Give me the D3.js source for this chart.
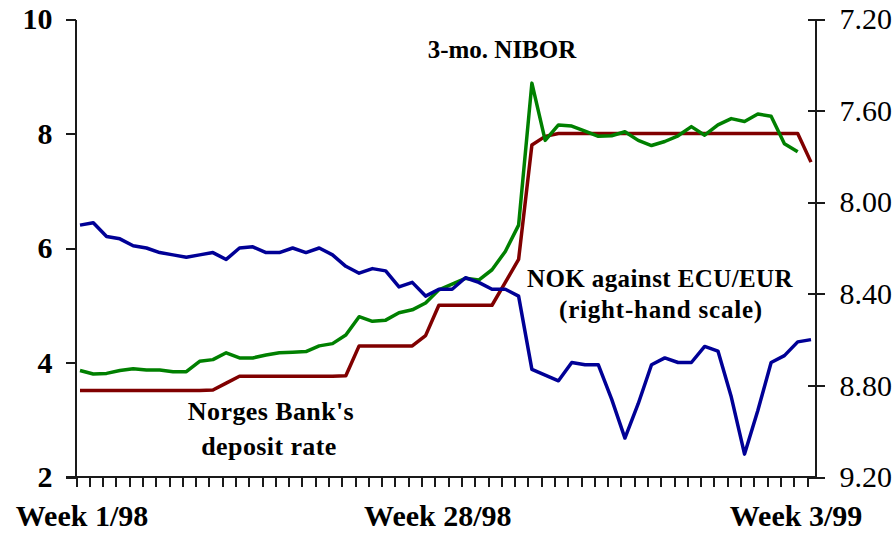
<!DOCTYPE html>
<html>
<head>
<meta charset="utf-8">
<script src="https://cdn.jsdelivr.net/npm/d3@7"></script>
<style>
  body { margin: 0; background: #fff; }
  svg { display: block; font-family: "Liberation Serif", "Times New Roman", serif; }
  .axis path, .axis line { stroke: #1a1a1a; stroke-width: 2; shape-rendering: crispEdges; }
  .note { font-weight: bold; fill: #000; }
</style>
</head>
<body>
<div id="chart"></div>
<script>
// weekly observations, week 1/98 .. week 3/99
var xLabels = ["Week 1/98", "Week 28/98", "Week 3/99"];
var xLabelWeek = [0, 27, 55];

var leftTicks = [2, 4, 6, 8, 10];
var rightTicks = [7.2, 7.6, 8.0, 8.4, 8.8, 9.2];

var nibor = [3.86, 3.80, 3.81, 3.86, 3.89, 3.87, 3.87, 3.84, 3.84, 4.02,
             4.05, 4.17, 4.08, 4.08, 4.13, 4.17, 4.18, 4.19, 4.29, 4.33,
             4.48, 4.80, 4.72, 4.74, 4.87, 4.92, 5.04, 5.27, 5.37, 5.47,
             5.44, 5.62, 5.94, 6.40, 8.88, 7.88, 8.15, 8.13, 8.04, 7.95,
             7.96, 8.03, 7.88, 7.79, 7.86, 7.96, 8.12, 7.97, 8.15, 8.26,
             8.21, 8.34, 8.30, 7.82, 7.68];

var depositRate = [3.51, 3.51, 3.51, 3.51, 3.51, 3.51, 3.51, 3.51, 3.51, 3.51,
                   3.52, 3.64, 3.76, 3.76, 3.76, 3.76, 3.76, 3.76, 3.76, 3.76,
                   3.77, 4.29, 4.29, 4.29, 4.29, 4.29, 4.47, 5.00, 5.00, 5.00,
                   5.00, 5.00, 5.40, 5.80, 7.80, 7.95, 8.00, 8.00, 8.00, 8.00,
                   8.00, 8.00, 8.00, 8.00, 8.00, 8.00, 8.00, 8.00, 8.00, 8.00,
                   8.00, 8.00, 8.00, 8.00, 8.00, 7.50];

var nokEcu = [8.10, 8.09, 8.15, 8.16, 8.19, 8.20, 8.22, 8.23, 8.24, 8.23,
              8.22, 8.25, 8.20, 8.195, 8.22, 8.22, 8.20, 8.22, 8.20, 8.23,
              8.28, 8.31, 8.29, 8.30, 8.37, 8.35, 8.41, 8.38, 8.38, 8.33,
              8.35, 8.38, 8.38, 8.41, 8.73, 8.755, 8.78, 8.70, 8.71, 8.71,
              8.86, 9.03, 8.88, 8.71, 8.68, 8.70, 8.70, 8.63, 8.65, 8.85,
              9.10, 8.91, 8.70, 8.67, 8.61, 8.60];

var width = 895;
var height = 535;
var plot = {left: 75.5, right: 815.5, top: 19, bottom: 477};

var svg = d3.select("#chart")
            .append("svg")
            .attr("width", width)
            .attr("height", height);

var x = d3.scaleLinear()
            .domain([0, 55])
            .range([plot.left + 4.5, plot.right - 4.5]);

var yLeft = d3.scaleLinear()
            .domain([2, 10])
            .range([plot.bottom, plot.top]);

// right-hand scale runs upside down
var yRight = d3.scaleLinear()
            .domain([7.2, 9.2])
            .range([plot.top, plot.bottom]);

// bottom axis: one tick per week, sitting just left of each point
var xAxis = d3.axisBottom(x)
            .tickValues(d3.range(56).map(function(k){ return k - 0.3; }))
            .tickSize(10)
            .tickSizeOuter(0)
            .tickFormat("");

var gx = svg.append("g")
            .attr("class", "axis x")
            .attr("transform", "translate(0," + plot.bottom + ")")
            .call(xAxis);
gx.select(".domain").remove();

svg.append("line")
    .attr("x1", plot.left - 10).attr("x2", plot.right)
    .attr("y1", plot.bottom).attr("y2", plot.bottom)
    .style("stroke", "#1a1a1a")
    .style("stroke-width", 2)
    .style("shape-rendering", "crispEdges");

var yAxisLeft = d3.axisLeft(yLeft)
            .tickValues(leftTicks)
            .tickSize(10)
            .tickSizeOuter(0)
            .tickPadding(13);

svg.append("g")
    .attr("class", "axis yl")
    .attr("transform", "translate(" + plot.left + ",0)")
    .call(yAxisLeft)
    .selectAll("text")
    .style("font-family", "Liberation Serif")
    .style("font-size", "30px")
    .style("font-weight", "bold")
    .attr("fill", "#000");

var yAxisRight = d3.axisRight(yRight)
            .tickValues(rightTicks)
            .tickSize(9)
            .tickSizeOuter(0)
            .tickPadding(15)
            .tickFormat(d3.format(".2f"));

var gr = svg.append("g")
    .attr("class", "axis yr")
    .attr("transform", "translate(" + plot.right + ",0)")
    .call(yAxisRight);
gr.selectAll(".tick line").attr("x1", -8);  // ticks cross the axis
gr.selectAll("text")
    .style("font-family", "Liberation Serif")
    .style("font-size", "30px")
    .attr("fill", "#000");

var lineLeft = d3.line()
            .x(function(d, i){ return x(i); })
            .y(function(d){ return yLeft(d); });

var lineRight = d3.line()
            .x(function(d, i){ return x(i); })
            .y(function(d){ return yRight(d); });

svg.append("path")
    .attr("d", lineLeft(depositRate))
    .attr("fill", "none")
    .style("stroke", "#800000")
    .style("stroke-width", 3.5)
    .style("stroke-linejoin", "round");

svg.append("path")
    .attr("d", lineLeft(nibor))
    .attr("fill", "none")
    .style("stroke", "#008000")
    .style("stroke-width", 3.5)
    .style("stroke-linejoin", "round");

svg.append("path")
    .attr("d", lineRight(nokEcu))
    .attr("fill", "none")
    .style("stroke", "#000096")
    .style("stroke-width", 3.5)
    .style("stroke-linejoin", "round");

// week labels under the axis
var labelShift = [2, -1, -15];
svg.selectAll(".week-label")
    .data(xLabels)
    .enter().append("text")
    .attr("class", "week-label")
    .attr("x", function(d, i){ return x(xLabelWeek[i]) + labelShift[i]; })
    .attr("y", 526)
    .attr("text-anchor", "middle")
    .style("font-size", "30px")
    .style("font-weight", "bold")
    .text(function(d){ return d; });

// series notes
svg.append("text").attr("class", "note")
    .attr("x", 502).attr("y", 58)
    .attr("text-anchor", "middle")
    .style("font-size", "25px")
    .text("3-mo. NIBOR");

svg.append("text").attr("class", "note")
    .attr("x", 660).attr("y", 287)
    .attr("text-anchor", "middle")
    .style("font-size", "25px")
    .style("letter-spacing", "0.4px")
    .text("NOK against ECU/EUR");

svg.append("text").attr("class", "note")
    .attr("x", 661).attr("y", 318)
    .attr("text-anchor", "middle")
    .style("font-size", "25px")
    .style("letter-spacing", "0.8px")
    .text("(right-hand scale)");

svg.append("text").attr("class", "note")
    .attr("x", 271).attr("y", 420)
    .attr("text-anchor", "middle")
    .style("font-size", "26px")
    .style("letter-spacing", "0.4px")
    .text("Norges Bank's");

svg.append("text").attr("class", "note")
    .attr("x", 269).attr("y", 455)
    .attr("text-anchor", "middle")
    .style("font-size", "26px")
    .style("letter-spacing", "0.4px")
    .text("deposit rate");
</script>
</body>
</html>
